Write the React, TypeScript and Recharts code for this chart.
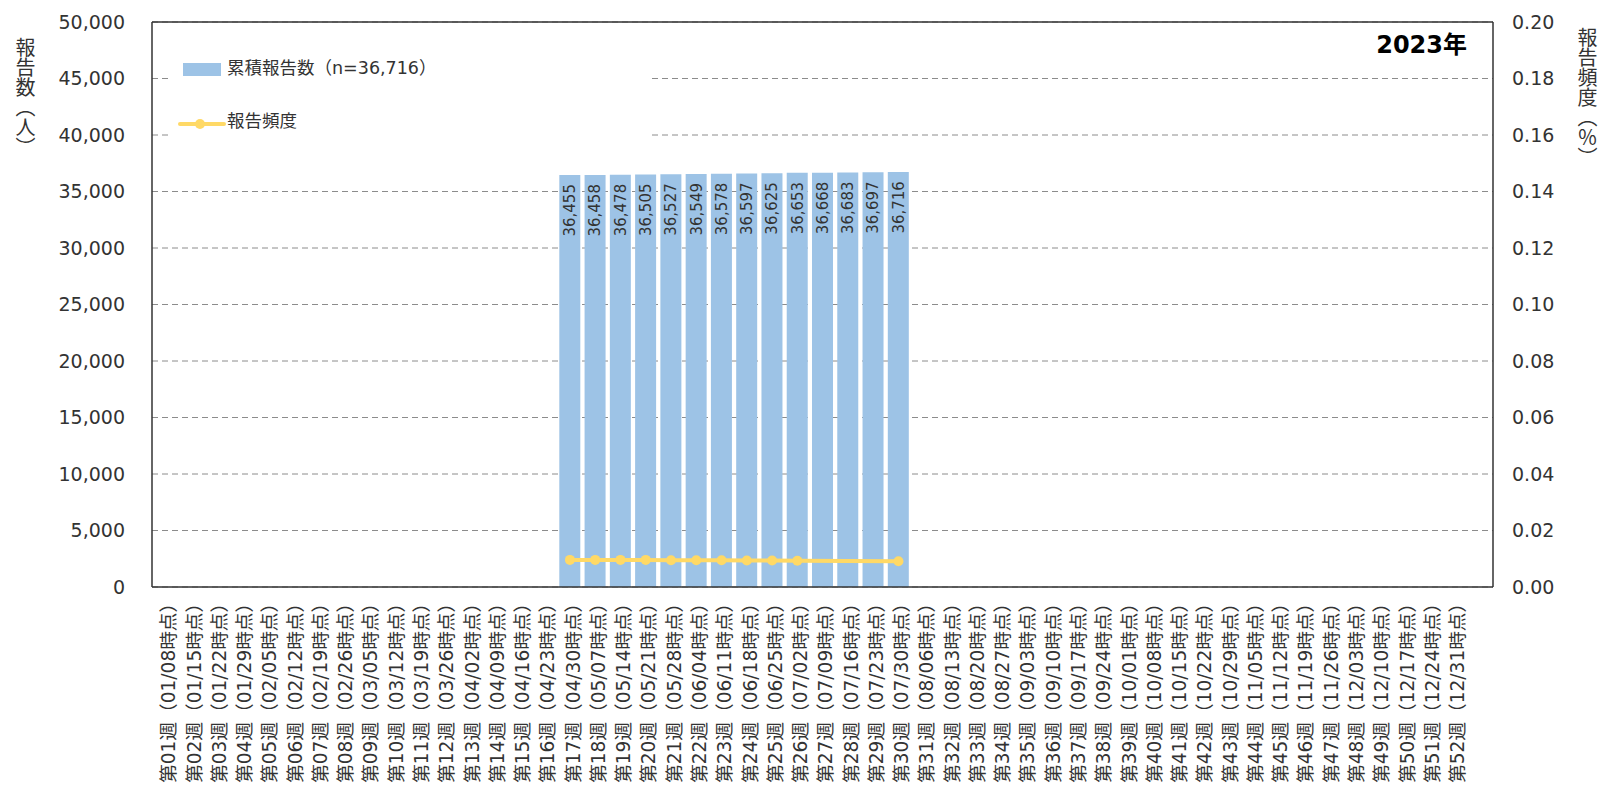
import React from "react";
import {
  ComposedChart,
  Bar,
  Line,
  XAxis,
  YAxis,
  CartesianGrid,
  ReferenceLine,
  LabelList,
} from "recharts";

// 週ラベル（日曜日時点）
const weekDates = [
  "01/08", "01/15", "01/22", "01/29", "02/05", "02/12", "02/19", "02/26",
  "03/05", "03/12", "03/19", "03/26", "04/02", "04/09", "04/16", "04/23",
  "04/30", "05/07", "05/14", "05/21", "05/28", "06/04", "06/11", "06/18",
  "06/25", "07/02", "07/09", "07/16", "07/23", "07/30", "08/06", "08/13",
  "08/20", "08/27", "09/03", "09/10", "09/17", "09/24", "10/01", "10/08",
  "10/15", "10/22", "10/29", "11/05", "11/12", "11/19", "11/26", "12/03",
  "12/10", "12/17", "12/24", "12/31",
];

// 第17週〜第30週
const firstWeekWithData = 17;
const cumulativeReports = [
  36455, 36458, 36478, 36505, 36527, 36549, 36578, 36597, 36625, 36653,
  36668, 36683, 36697, 36716,
];
const reportFrequency = [
  0.0096, 0.0096, 0.0096, 0.0096, 0.0095, 0.0095, 0.0095, 0.0094, 0.0094,
  0.0093, null, null, null, 0.0091,
];

const leftTicks = [0, 5000, 10000, 15000, 20000, 25000, 30000, 35000, 40000, 45000, 50000];
const rightTicks = [0, 0.02, 0.04, 0.06, 0.08, 0.1, 0.12, 0.14, 0.16, 0.18, 0.2];

const data = weekDates.map((d, i) => {
  const week = i + 1;
  const k = week - firstWeekWithData;
  const inRange = k >= 0 && k < cumulativeReports.length;
  return {
    label: `第${String(week).padStart(2, "0")}週（${d}時点）`,
    count: inRange ? cumulativeReports[k] : null,
    freq: inRange ? reportFrequency[k] : null,
  };
});

const FONT = "'DejaVu Sans', 'Noto Sans CJK JP', sans-serif";
const BAR_COLOR = "#9DC3E6";
const LINE_COLOR = "#FFD966";
const TEXT_COLOR = "#333";

const WeekTick = ({ x, y, payload }: any) => (
  <text
    transform={`translate(${x},${y - 1}) rotate(-90)`}
    textAnchor="end"
    dy="0.52em"
    fontSize={18.6}
    fontFamily={FONT}
    fill={TEXT_COLOR}
  >
    {payload.value}
  </text>
);

const BarValue = ({ x, y, width, value }: any) => {
  if (value == null) return null;
  const cx = x + width / 2;
  const cy = y + 9;
  return (
    <text
      transform={`translate(${cx},${cy}) rotate(-90)`}
      textAnchor="end"
      dy="0.36em"
      fontSize={15}
      fontFamily={FONT}
      fill={TEXT_COLOR}
    >
      {Number(value).toLocaleString("en-US")}
    </text>
  );
};

export default function App() {
  return (
    <div
      style={{
        position: "fixed",
        left: 0,
        top: 0,
        width: 1599,
        height: 788,
        background: "#fff",
        fontFamily: FONT,
        color: TEXT_COLOR,
      }}
    >
      <ComposedChart
        width={1599}
        height={788}
        data={data}
        margin={{ top: 22, right: 0, bottom: 0, left: 0 }}
      >
        <CartesianGrid
          yAxisId="left"
          vertical={false}
          strokeDasharray="6 4"
          stroke="#8c8c8c"
        />
        <XAxis
          dataKey="label"
          interval={0}
          height={201}
          padding={{ left: 1, right: 26 }}
          tick={<WeekTick />}
          tickLine={false}
          axisLine={{ stroke: "#333", strokeWidth: 1.5 }}
        />
        <YAxis
          yAxisId="left"
          orientation="left"
          width={152}
          domain={[0, 50000]}
          ticks={leftTicks}
          tickFormatter={(v: number) => v.toLocaleString("en-US")}
          tick={{ fontSize: 19, fill: TEXT_COLOR, fontFamily: FONT }}
          tickLine={false}
          tickMargin={21}
          axisLine={{ stroke: "#333", strokeWidth: 1.5 }}
        />
        <YAxis
          yAxisId="right"
          orientation="right"
          width={106}
          domain={[0, 0.2]}
          ticks={rightTicks}
          tickFormatter={(v: number) => v.toFixed(2)}
          tick={{ fontSize: 19, fill: TEXT_COLOR, fontFamily: FONT }}
          tickLine={false}
          tickMargin={13}
          axisLine={{ stroke: "#333", strokeWidth: 1.5 }}
        />
        <ReferenceLine yAxisId="left" y={50000} stroke="#333" strokeWidth={1.5} />
        <Bar
          yAxisId="left"
          dataKey="count"
          fill={BAR_COLOR}
          barSize={21}
          isAnimationActive={false}
        >
          <LabelList dataKey="count" content={<BarValue />} />
        </Bar>
        <Line
          yAxisId="right"
          dataKey="freq"
          type="linear"
          stroke={LINE_COLOR}
          strokeWidth={4}
          connectNulls
          dot={{ r: 5, fill: LINE_COLOR, stroke: "none" }}
          activeDot={false}
          isAnimationActive={false}
        />
      </ComposedChart>

      {/* 凡例 */}
      <div
        style={{
          position: "absolute",
          left: 170,
          top: 40,
          width: 479,
          height: 110,
          background: "#fff",
          fontSize: 17.5,
        }}
      >
        <div style={{ position: "absolute", left: 13, top: 23, width: 38, height: 13, background: BAR_COLOR }} />
        <div style={{ position: "absolute", left: 57, top: 18, lineHeight: "20px", whiteSpace: "nowrap" }}>
          累積報告数（n=36,716）
        </div>
        <svg style={{ position: "absolute", left: 8, top: 76 }} width={48} height={16}>
          <line x1={2} y1={8} x2={46} y2={8} stroke={LINE_COLOR} strokeWidth={4} strokeLinecap="round" />
          <circle cx={22} cy={8} r={5} fill={LINE_COLOR} />
        </svg>
        <div style={{ position: "absolute", left: 57, top: 71, lineHeight: "20px", whiteSpace: "nowrap" }}>
          報告頻度
        </div>
      </div>

      {/* 年 */}
      <div
        style={{
          position: "absolute",
          right: 132,
          top: 33,
          fontSize: 24,
          fontWeight: "bold",
          lineHeight: 1,
          color: "#000",
        }}
      >
        2023年
      </div>

      {/* 軸タイトル */}
      <div
        style={{
          position: "absolute",
          left: 13,
          top: 37,
          writingMode: "vertical-rl",
          fontSize: 20,
          lineHeight: "22px",
        }}
      >
        報告数（人）
      </div>
      <div
        style={{
          position: "absolute",
          left: 1575,
          top: 27,
          writingMode: "vertical-rl",
          fontSize: 20,
          lineHeight: "22px",
        }}
      >
        報告頻度（％）
      </div>
    </div>
  );
}
